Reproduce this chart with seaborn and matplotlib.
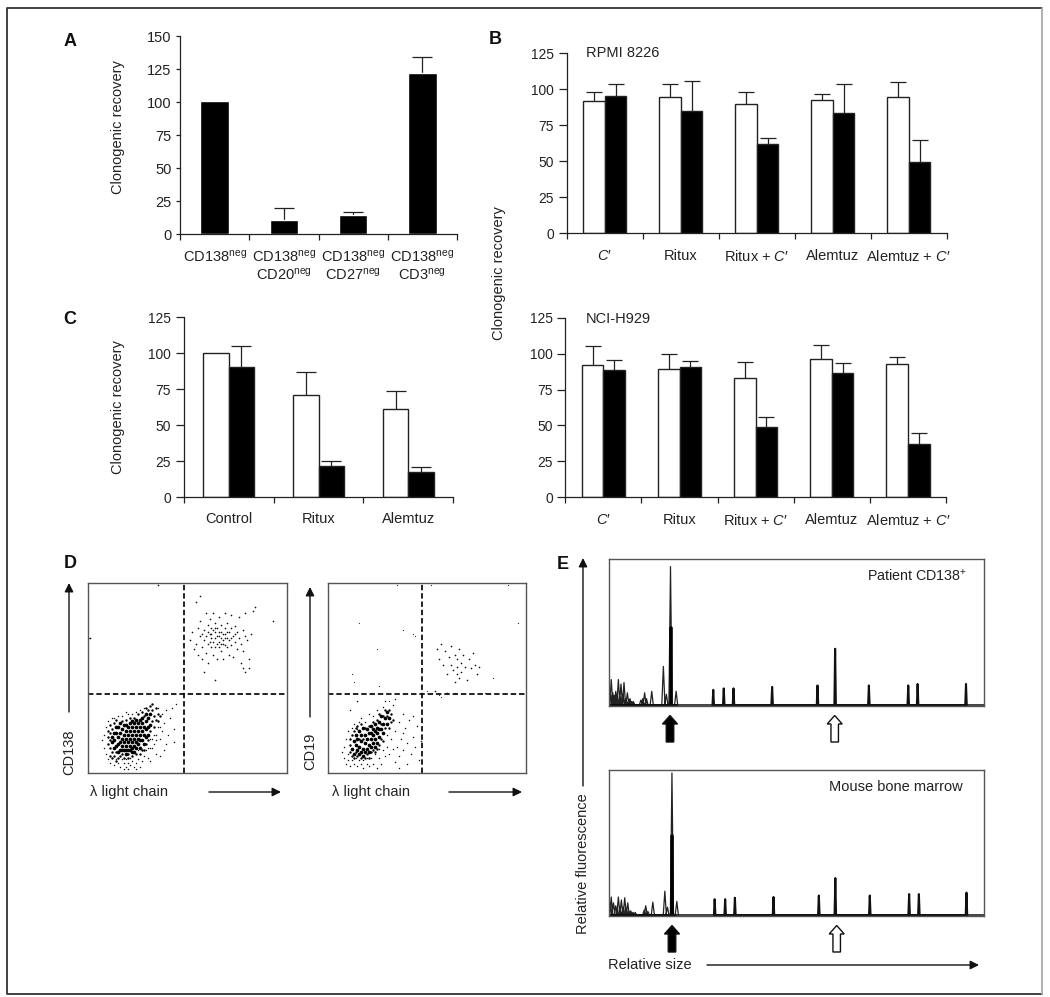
import numpy as np
import pandas as pd
import matplotlib
matplotlib.use("Agg")
import matplotlib.pyplot as plt
from matplotlib.patches import FancyArrow
from matplotlib.ticker import FixedLocator, FixedFormatter, NullFormatter
import seaborn as sns

sns.set_theme(style="white")
plt.rcParams["font.family"] = ["Liberation Sans", "DejaVu Sans"]
plt.rcParams["mathtext.fontset"] = "custom"
plt.rcParams["mathtext.rm"] = "Liberation Sans"
plt.rcParams["mathtext.it"] = "Liberation Sans:italic"
plt.rcParams["mathtext.bf"] = "Liberation Sans:bold"

INK = "#222222"
W, H = 1050, 997

# panel A
a_labels = ["CD138$^{\\mathrm{neg}}$",
            "CD138$^{\\mathrm{neg}}$\nCD20$^{\\mathrm{neg}}$",
            "CD138$^{\\mathrm{neg}}$\nCD27$^{\\mathrm{neg}}$",
            "CD138$^{\\mathrm{neg}}$\nCD3$^{\\mathrm{neg}}$"]
a_values = [101, 10.5, 14.5, 122]
a_tops = [np.nan, 20, 16.5, 134]

# panel B
b_labels = ["$\\mathit{C}$′", "Ritux", "Ritux + $\\mathit{C}$′", "Alemtuz", "Alemtuz + $\\mathit{C}$′"]
rpmi_white = [91.7, 94.7, 89.8, 92.8, 94.7]
rpmi_white_top = [98.4, 104, 98.4, 97, 104.9]
rpmi_black = [95.6, 85, 62, 83.8, 49.5]
rpmi_black_top = [103.7, 106, 66.4, 103.5, 65]
nci_white = [92, 89, 83, 96.2, 93]
nci_white_top = [105, 99.7, 94.4, 106, 97.4]
nci_black = [88.4, 91, 48.7, 86.3, 37]
nci_black_top = [95.5, 94.9, 56, 93.7, 44.8]

# panel C
c_labels = ["Control", "Ritux", "Alemtuz"]
c_white = [100.4, 71.2, 61.2]
c_white_top = [np.nan, 87.2, 73.7]
c_black = [90.4, 21.8, 17.2]
c_black_top = [105.3, 25, 20.9]

# panel D, read by eye in percent of the plot box
d1_core = [(13, 17), (14, 21), (14, 14), (15, 19), (15, 24), (16, 16), (16, 12), (16, 21), (17, 18), (17, 14),
           (17, 23), (18, 20), (18, 16), (18, 12), (18, 25), (19, 18), (19, 22), (19, 14), (20, 20), (20, 16),
           (20, 24), (20, 12), (21, 18), (21, 22), (21, 14), (21, 26), (22, 20), (22, 16), (22, 24), (23, 18),
           (23, 22), (23, 14), (23, 26), (24, 20), (24, 16), (24, 24), (24, 28), (25, 18), (25, 22), (25, 26),
           (26, 20), (26, 24), (26, 17), (27, 22), (27, 26), (27, 29), (28, 20), (28, 24), (29, 27), (29, 31),
           (30, 24), (30, 29), (19, 10), (22, 11), (15, 11), (12, 19), (12, 16), (13, 13), (13, 21), (14, 24),
           (15, 15), (16, 26), (17, 12), (19, 12), (19, 25), (21, 12), (22, 13), (22, 27), (24, 13), (25, 15),
           (26, 13), (27, 17), (28, 15), (29, 19), (29, 23), (30, 20), (31, 25), (31, 31), (26, 28), (23, 11)]
d1_spread = [(10, 19), (10, 15), (11, 13), (11, 17), (11, 21), (11, 25), (12, 11), (12, 23), (13, 9), (13, 26),
             (14, 11), (14, 28), (15, 8), (16, 9), (17, 27), (17, 10), (18, 8), (19, 28), (20, 10), (20, 8),
             (21, 29), (22, 9), (23, 29), (24, 10), (25, 31), (26, 10), (27, 12), (27, 32), (28, 12), (29, 15),
             (28, 30), (30, 17), (30, 33), (31, 22), (32, 27), (32, 33), (33, 30), (33, 24), (34, 34), (34, 28),
             (31, 35), (32, 36), (35, 31), (35, 27), (29, 34), (12, 8), (10, 22), (11, 9), (36, 30), (14, 6)]
d1_halo = [(7, 17), (8, 13), (8, 20), (9, 10), (9, 24), (10, 7), (10, 27), (11, 5), (12, 29), (13, 4),
           (13, 29), (14, 7), (15, 5), (15, 30), (16, 3), (17, 7), (17, 30), (18, 5), (19, 3), (19, 7),
           (19, 32), (20, 5), (20, 31), (21, 4), (21, 8), (22, 6), (22, 31), (23, 3), (24, 5), (24, 32),
           (25, 7), (25, 12), (26, 3), (26, 33), (27, 6), (28, 9), (28, 34), (29, 12), (30, 8), (30, 13),
           (31, 13), (31, 18), (32, 18), (32, 13), (33, 15), (33, 20), (34, 20), (34, 17), (35, 24), (35, 34),
           (36, 18), (36, 24), (37, 22), (37, 31), (38, 26), (39, 15), (39, 33), (41, 29), (43, 23), (44, 36),
           (43, 16), (38, 12), (40, 20), (42, 34), (36, 9), (34, 10), (31, 6), (24, 2), (18, 2), (20, 2)]
d1_upper = [(51, 70), (52, 74), (53, 65), (54, 68), (55, 76), (55, 62), (56, 72), (56, 80), (57, 66), (57, 60),
            (58, 75), (58, 70), (59, 84), (59, 63), (60, 78), (60, 68), (60, 58), (61, 73), (61, 81), (62, 66),
            (62, 76), (62, 71), (63, 62), (63, 84), (63, 69), (64, 74), (64, 79), (64, 66), (65, 72), (65, 60),
            (65, 76), (66, 69), (66, 82), (66, 74), (67, 71), (67, 64), (67, 78), (68, 73), (68, 68), (68, 60),
            (69, 76), (69, 71), (69, 84), (70, 66), (70, 74), (70, 79), (71, 70), (71, 62), (72, 76), (72, 67),
            (72, 83), (73, 72), (73, 61), (74, 69), (74, 77), (75, 65), (75, 74), (76, 71), (76, 82), (77, 68),
            (77, 58), (78, 75), (78, 64), (79, 72), (79, 84), (80, 70), (81, 60), (82, 73), (83, 85), (84, 87),
            (78, 55), (79, 53), (81, 55), (54, 90), (56, 93), (64, 49), (58, 53), (93, 80), (1, 71), (35, 99),
            (59, 72), (61, 69), (63, 75), (64, 71), (65, 68), (66, 72), (67, 74), (68, 70), (69, 73), (70, 71),
            (62, 73), (66, 66), (71, 74), (60, 74), (64, 76), (67, 68), (69, 67), (72, 71), (57, 73), (74, 73)]
d2_core = [(12, 13), (13, 17), (13, 10), (14, 15), (14, 20), (15, 12), (15, 18), (16, 14), (16, 22), (17, 11),
           (17, 17), (17, 20), (18, 13), (18, 24), (18, 9), (19, 16), (19, 20), (20, 13), (20, 18), (20, 23),
           (21, 15), (21, 11), (21, 21), (22, 18), (22, 25), (22, 14), (23, 20), (23, 16), (23, 23), (24, 18),
           (24, 14), (24, 26), (25, 21), (25, 16), (25, 24), (26, 19), (26, 27), (27, 23), (27, 30), (28, 26),
           (28, 21), (29, 29), (30, 26), (30, 32), (31, 29), (19, 11), (16, 10), (26, 23), (24, 22), (22, 21)]
d2_spread = [(11, 11), (11, 15), (11, 18), (12, 9), (12, 20), (13, 8), (13, 22), (14, 11), (14, 24), (15, 9),
             (15, 25), (16, 18), (17, 8), (17, 26), (18, 18), (19, 8), (19, 24), (20, 10), (21, 25), (21, 8),
             (22, 11), (23, 27), (23, 12), (24, 11), (25, 13), (25, 28), (26, 15), (27, 18), (27, 26), (28, 30),
             (29, 24), (29, 33), (30, 30), (31, 33), (32, 31), (33, 28), (32, 27), (31, 24), (28, 17), (26, 31)]
d2_halo = [(7, 11), (8, 8), (8, 14), (9, 5), (9, 18), (10, 10), (10, 22), (10, 7), (11, 4), (12, 24),
           (12, 7), (13, 5), (13, 26), (14, 8), (15, 4), (15, 23), (16, 7), (16, 27), (17, 5), (17, 29),
           (18, 3), (18, 7), (19, 27), (20, 5), (20, 8), (21, 31), (21, 4), (22, 8), (23, 5), (23, 30),
           (24, 10), (25, 3), (25, 33), (26, 8), (26, 13), (27, 5), (28, 12), (28, 35), (29, 9), (30, 14),
           (30, 20), (31, 10), (32, 18), (33, 13), (33, 36), (34, 22), (34, 6), (35, 14), (36, 27), (36, 9),
           (37, 18), (38, 31), (38, 12), (39, 24), (40, 16), (40, 5), (41, 28), (42, 10), (43, 19), (43, 30),
           (44, 14), (45, 25), (46, 7), (47, 17), (36, 3), (34, 39), (15, 38), (29, 38), (11, 33), (38, 21)]
d2_upper = [(55, 65), (56, 60), (57, 68), (58, 57), (59, 64), (60, 52), (61, 61), (62, 57), (62, 67), (63, 54),
            (64, 62), (64, 48), (65, 56), (65, 52), (65, 60), (66, 50), (66, 65), (67, 58), (67, 53), (68, 62),
            (69, 56), (70, 49), (71, 60), (72, 55), (73, 63), (74, 57), (75, 52), (76, 56), (54, 43), (60, 42)]
d2_scatter = [(16, 79), (38, 75), (43, 73), (44, 72), (25, 65), (12, 52), (13, 48), (26, 46), (47, 46), (50, 43),
              (83, 50), (96, 79), (35, 99), (52, 99), (91, 99), (64, 42), (56, 41), (79, 42), (57, 40), (31, 38)]

# panel E: peak size and height, percent of the plot box
e1_size = [0.3, 0.6, 1.0, 1.4, 1.8, 2.2, 2.5, 2.9, 3.2, 3.7, 4.0, 4.5, 4.9, 5.3, 5.6, 6.1, 6.5, 8.5, 9.0, 9.5, 10.0,
           11.4, 14.5, 15.3, 16.4, 17.9, 27.8, 30.6, 33.2, 43.5, 55.6, 60.3, 69.3, 79.8, 82.3, 95.2]
e1_height = [10, 18, 9, 7, 10, 8, 18, 6, 15, 8, 16, 5, 9, 4, 5, 3, 3, 4, 5, 9, 5,
             10, 27, 8, 95, 10, 11, 12, 12, 13, 14, 39, 14, 14, 15, 15]
e2_size = [0.3, 0.6, 1.2, 1.8, 2.5, 2.9, 3.3, 3.8, 4.2, 4.6, 5.0, 5.4, 5.8, 6.4, 7.0, 9.4, 9.8, 10.4, 11.7,
           14.9, 15.6, 16.8, 18.1, 28.2, 31.0, 33.6, 43.9, 56.0, 60.4, 69.6, 80.1, 82.7, 95.4]
e2_height = [9, 13, 9, 7, 13, 6, 11, 6, 12.5, 5, 9, 3, 3.5, 2.5, 2.5, 4, 7, 3, 9.5,
             17, 6, 98, 10, 11.5, 11.5, 12.5, 13, 14, 26, 14, 15, 15, 16]


def box(left, top, right, bottom):
    return fig.add_axes([left / W, 1 - bottom / H, (right - left) / W, (bottom - top) / H])


def style_axes(ax, n, ymax, step, labels, ytick_len=6, ytick_size=9.9, pad=11):
    ax.set_xlim(-0.5, n - 0.5)
    ax.set_ylim(0, ymax)
    ax.set_xlabel("")
    ax.set_ylabel("")
    ax.xaxis.set_major_locator(FixedLocator(np.arange(n + 1) - 0.5))
    ax.xaxis.set_major_formatter(NullFormatter())
    ax.xaxis.set_minor_locator(FixedLocator(np.arange(n)))
    ax.xaxis.set_minor_formatter(FixedFormatter(labels))
    ax.set_yticks(np.arange(0, ymax + 1, step))
    ax.tick_params(axis="x", which="major", length=4, width=0.9, color=INK, bottom=True)
    ax.tick_params(axis="x", which="minor", length=0, labelsize=10.5, pad=pad, labelcolor=INK, bottom=False)
    ax.tick_params(axis="y", length=ytick_len, width=0.9, color=INK, left=True, labelsize=ytick_size, pad=3,
                   labelcolor=INK)
    sns.despine(ax=ax)
    for side in ["left", "bottom"]:
        ax.spines[side].set_color(INK)
        ax.spines[side].set_linewidth(0.9)


def add_errors(ax, bars, values, tops, capsize):
    xs = [b.get_x() + b.get_width() / 2 for b in bars]
    values = np.array(values, dtype=float)
    ups = np.array(tops, dtype=float) - values
    _, caps, _ = ax.errorbar(xs, values, yerr=[np.zeros(len(ups)), ups], fmt="none", ecolor=INK,
                             elinewidth=0.9, capsize=capsize, capthick=0.9, zorder=1)
    caps[0].set_visible(False)


def paired_bars(ax, labels, white, white_top, black, black_top, ymax, capsize):
    df = pd.DataFrame({"group": labels * 2,
                       "value": white + black,
                       "kind": ["white"] * len(labels) + ["black"] * len(labels)})
    sns.barplot(data=df, x="group", y="value", hue="kind", palette=["white", "black"], width=0.57, gap=0,
                saturation=1, edgecolor=INK, linewidth=1.0, legend=False, ax=ax, zorder=2)
    add_errors(ax, ax.containers[0], white, white_top, capsize)
    add_errors(ax, ax.containers[1], black, black_top, capsize)
    style_axes(ax, len(labels), ymax, 25, labels)


def flow_plot(ax, core, spread, halo, upper, extra, xgate, ygate):
    for pts, size, tone in [(core, 7, "black"), (spread, 3, "black"), (halo, 1.1, "#111111"),
                            (upper, 1.4, "#111111"), (extra, 0.8, "#333333")]:
        arr = np.array(pts)
        sns.scatterplot(x=arr[:, 0], y=arr[:, 1], s=size, color=tone, marker="o", linewidth=0, ax=ax)
    for coll in ax.collections:
        coll.set_snap(False)
    ax.axvline(xgate, color="#111111", lw=1.3, ls=(0, (3, 1.6)))
    ax.axhline(ygate, color="#111111", lw=1.3, ls=(0, (3, 1.6)))
    ax.set_xlim(0, 100)
    ax.set_ylim(0, 100)
    ax.set_xticks([])
    ax.set_yticks([])
    ax.grid(False)
    for s in ax.spines.values():
        s.set_color("#555555")
        s.set_linewidth(1.0)


def peak_line(sizes, heights, w):
    xs, ys = [], []
    for x, h in zip(sizes, heights):
        xs += [x - w, x, x + w]
        ys += [0.6, h, 0.6]
    return xs, ys


def trace_plot(ax, sizes, heights):
    sizes = np.array(sizes)
    heights = np.array(heights)
    early = sizes < 20
    main = heights.argmax()
    xs, ys = peak_line(sizes[early], heights[early], 0.42)
    sns.lineplot(x=xs, y=ys, sort=False, estimator=None, color="#222222", lw=0.9, ax=ax)
    xs, ys = peak_line(sizes[~early], heights[~early], 0.2)
    sns.lineplot(x=xs, y=ys, sort=False, estimator=None, color="#111111", lw=1.5, ax=ax)
    # thick foot of the main peak and of the low noise
    ax.plot([sizes[main], sizes[main]], [0, heights[main] * 0.56], color="black", lw=2.6)
    ax.plot([0, 18], [1.0, 1.0], color="black", lw=2.0, solid_capstyle="butt")
    ax.plot([0, 100], [0.4, 0.4], color="#111111", lw=1.1)
    ax.set_xlim(0, 100)
    ax.set_ylim(0, 100)
    ax.set_xticks([])
    ax.set_yticks([])
    ax.grid(False)
    for s in ax.spines.values():
        s.set_color("#555555")
        s.set_linewidth(1.0)


fig = plt.figure(figsize=(W / 100, H / 100), dpi=100, facecolor="white")

ax_a = box(180, 36, 457, 234.3)
sns.barplot(x=list(range(4)), y=a_values, color="black", width=0.41, saturation=1, ax=ax_a, zorder=2)
add_errors(ax_a, ax_a.containers[0], a_values, a_tops, 7)
style_axes(ax_a, 4, 150, 25, a_labels, ytick_len=3, ytick_size=10.5, pad=10)

ax_b1 = box(566.7, 53.3, 946.7, 233.3)
paired_bars(ax_b1, b_labels, rpmi_white, rpmi_white_top, rpmi_black, rpmi_black_top, 125, 5.9)

ax_b2 = box(565.3, 317.7, 946, 497.3)
paired_bars(ax_b2, b_labels, nci_white, nci_white_top, nci_black, nci_black_top, 125, 5.9)

ax_c = box(183.7, 317.3, 453.3, 497)
paired_bars(ax_c, c_labels, c_white, c_white_top, c_black, c_black_top, 125, 7.2)

ax_d1 = box(88.3, 582.7, 287, 772.7)
flow_plot(ax_d1, d1_core, d1_spread, d1_halo, d1_upper, [(0.5, 71)], 48, 41.5)

ax_d2 = box(327.7, 582.7, 526.3, 773.3)
flow_plot(ax_d2, d2_core, d2_spread, d2_halo, d2_upper, d2_scatter, 47.5, 41.5)

ax_e1 = box(609, 559.3, 984, 706)
trace_plot(ax_e1, e1_size, e1_height)

ax_e2 = box(609, 770, 983.7, 916)
trace_plot(ax_e2, e2_size, e2_height)

# overlay in image pixels for the panel letters, notes and arrows
over = fig.add_axes([0, 0, 1, 1], facecolor="none")
over.set_xlim(0, W)
over.set_ylim(H, 0)
over.axis("off")

over.plot([1042, 7, 7, 1042], [8, 8, 994, 994], color="#333333", lw=1.3)
over.plot([1042, 1042], [8, 994], color="#aaaaaa", lw=1.3)

for letter, x, y in [("A", 70.5, 41), ("B", 495, 40), ("C", 70, 319), ("D", 70, 563), ("E", 563, 564)]:
    over.text(x, y, letter, fontsize=13, fontweight="bold", color="#111111", ha="center", va="center")

for x, y in [(117.7, 127), (499, 273), (117.7, 407)]:
    over.text(x, y, "Clonogenic recovery", fontsize=10.5, color=INK, rotation=90, ha="center", va="center")

over.text(586, 53, "RPMI 8226", fontsize=10.5, color=INK, va="center")
over.text(586, 319, "NCI-H929", fontsize=10.5, color=INK, va="center")
over.text(69.3, 752, "CD138", fontsize=10.5, color=INK, rotation=90, ha="center", va="center")
over.text(310, 751, "CD19", fontsize=10.5, color=INK, rotation=90, ha="center", va="center")
over.text(90, 792, "λ light chain", fontsize=10.5, color=INK, va="center")
over.text(332, 792, "λ light chain", fontsize=10.5, color=INK, va="center")
over.text(967, 576, "Patient CD138$^{+}$", fontsize=10.3, color=INK, ha="right", va="center")
over.text(963, 787, "Mouse bone marrow", fontsize=10.5, color=INK, ha="right", va="center")
over.text(583, 864, "Relative fluorescence", fontsize=10.5, color=INK, rotation=90, ha="center", va="center")
over.text(608, 965, "Relative size", fontsize=10.5, color=INK, va="center")

for x0, y0, x1, y1 in [(69, 712, 69, 583), (209, 792, 281, 792), (310, 717, 310, 587), (449, 792, 522, 792),
                       (583, 786, 583, 558), (707, 965, 979, 965)]:
    over.annotate("", xy=(x1, y1), xytext=(x0, y0),
                  arrowprops=dict(arrowstyle="-|>", color="#111111", lw=1.0, mutation_scale=13,
                                  shrinkA=0, shrinkB=0))

for x, y0, face in [(670, 742, "black"), (834.7, 742, "white"), (672, 952, "black"), (836.7, 952, "white")]:
    over.add_patch(FancyArrow(x, y0, 0, -26.5, width=7.5, head_width=15, head_length=8.5,
                              length_includes_head=True, fc=face, ec="#111111", lw=1.0))

fig.savefig("out.png", dpi=100, facecolor="white")
